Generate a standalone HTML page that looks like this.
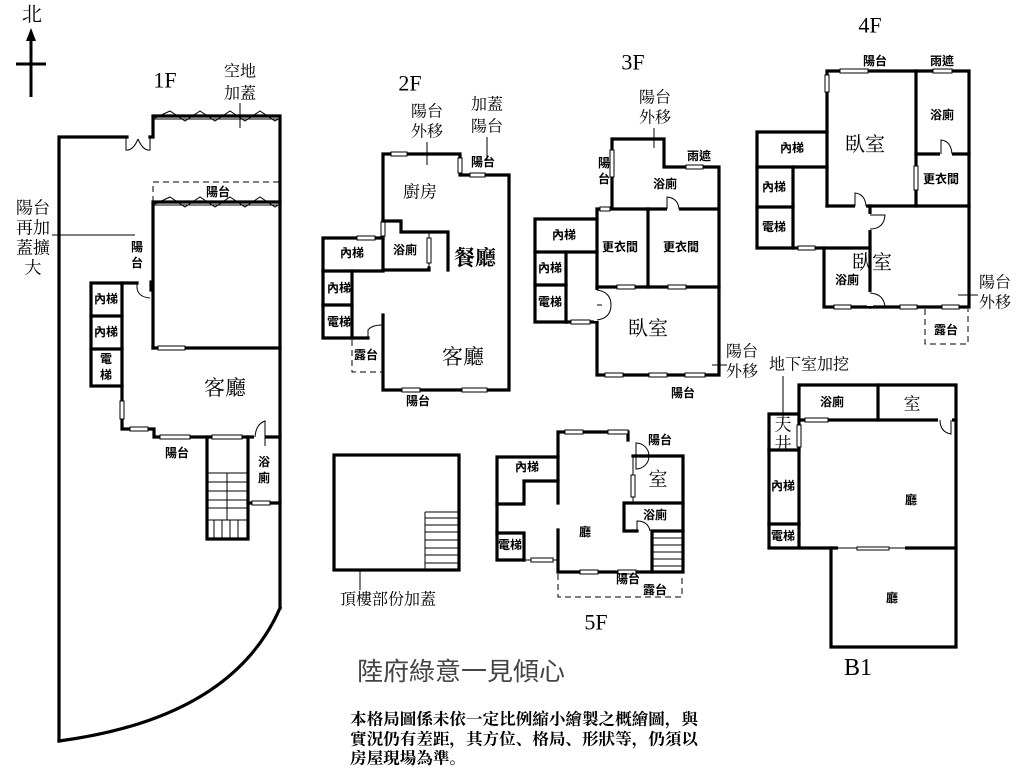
<!DOCTYPE html>
<html><head><meta charset="utf-8"><style>
html,body{margin:0;padding:0;background:#fff;}
svg{display:block;}
.w{stroke:#000;stroke-width:3.2;fill:none;stroke-linecap:square;}
.t{stroke:#000;stroke-width:1;fill:none;}
.d{stroke:#000;stroke-width:1;fill:none;stroke-dasharray:6 4;}
.wn{fill:#fff;stroke:#000;stroke-width:1;}
.sr{font-family:"Liberation Serif","Noto Serif CJK SC",serif;fill:#000;text-anchor:middle;dominant-baseline:central;}
.sb{font-family:"Liberation Sans","Noto Sans CJK TC",sans-serif;font-weight:bold;fill:#000;text-anchor:middle;dominant-baseline:central;font-size:12px;}
</style></head><body>
<svg width="1024" height="768" viewBox="0 0 1024 768" xmlns="http://www.w3.org/2000/svg">
<rect width="1024" height="768" fill="#fff"/>

<!-- North arrow -->
<text class="sr" x="32" y="15" font-size="20">北</text>
<line x1="31" y1="38" x2="31" y2="97" stroke="#000" stroke-width="3"/>
<polygon points="31,28 26,41 36,41" fill="#000"/>
<line x1="16" y1="64" x2="46" y2="64" stroke="#000" stroke-width="3"/>

<!-- ================= 1F ================= -->
<text class="sr" x="165" y="80" font-size="22">1F</text>
<text class="sr" x="240" y="72" font-size="16">空地</text>
<text class="sr" x="240" y="94" font-size="16">加蓋</text>
<line class="t" x1="240" y1="103" x2="240" y2="128"/>
<path class="w" d="M127,137 L59,137 L59,741"/>
<path class="w" d="M150,137 L153,137 L153,116 L280,116 L280,608"/>
<path class="w" d="M280,608 Q232,718 59,741"/>
<path class="t" d="M126,137 L126,150 Q133,151 138,139 M150,137 L150,150 Q143,151 138,139"/>
<line class="t" x1="153" y1="119" x2="280" y2="119"/>
<polyline class="t" points="155,118 170,111 185,121 200,111 215,121 230,111 245,121 260,111 275,121 280,118"/>
<path class="d" d="M153,202 L153,182 L280,182"/>
<text class="sb" x="218" y="192">陽台</text>
<path class="w" d="M153,348 L153,202 L280,202"/>
<line class="t" x1="153" y1="205" x2="280" y2="205"/>
<polyline class="t" points="155,204 170,197 185,207 200,197 215,207 230,197 245,207 260,197 275,207 280,204"/>
<path class="w" d="M153,348 L280,348"/>
<rect class="wn" x="158" y="346" width="27" height="4"/>
<line class="t" x1="52" y1="235" x2="135" y2="235"/>
<text class="sr" x="33" y="208" font-size="17">陽台</text>
<text class="sr" x="33" y="228" font-size="17">再加</text>
<text class="sr" x="33" y="248" font-size="17">蓋擴</text>
<text class="sr" x="33" y="268" font-size="17">大</text>
<text class="sb" x="137" y="247">陽</text>
<text class="sb" x="137" y="263">台</text>
<rect class="w" x="91" y="283" width="31" height="103"/>
<line class="w" x1="91" y1="316" x2="122" y2="316"/>
<line class="w" x1="91" y1="349" x2="122" y2="349"/>
<path class="w" d="M122,283 L137,283"/>
<path class="t" d="M137,283 L137,288 Q138,297 150,298"/>
<line class="w" x1="151" y1="282" x2="151" y2="290"/>
<text class="sb" x="106" y="299">內梯</text>
<text class="sb" x="106" y="332">內梯</text>
<text class="sb" x="106" y="359">電</text>
<text class="sb" x="106" y="375">梯</text>
<path class="w" d="M122,386 L122,429 L154,429 L154,437 L280,437"/>
<rect class="wn" x="120" y="401" width="4" height="18"/>
<rect class="wn" x="130" y="427" width="18" height="4"/>
<rect class="wn" x="160" y="435" width="30" height="4"/>
<rect class="wn" x="212" y="435" width="30" height="4"/>
<rect x="254" y="434" width="11" height="6" fill="#fff"/>
<path class="t" d="M255,437 Q256,424 265,421 L265,446"/>
<text class="sr" x="225" y="388" font-size="21">客廳</text>
<path class="w" d="M207,437 L207,539 L248,539 L248,437"/>
<path class="w" d="M248,503 L280,503"/>
<rect class="wn" x="252" y="501" width="18" height="4"/>
<g class="t">
<line x1="207" y1="473" x2="248" y2="473"/><line x1="207" y1="482" x2="248" y2="482"/>
<line x1="207" y1="491" x2="248" y2="491"/><line x1="207" y1="500" x2="248" y2="500"/>
<line x1="207" y1="508" x2="248" y2="508"/><line x1="207" y1="520" x2="248" y2="520"/>
<line x1="227" y1="473" x2="227" y2="520"/>
<line x1="214" y1="520" x2="214" y2="539"/><line x1="222" y1="520" x2="222" y2="539"/>
<line x1="230" y1="520" x2="230" y2="539"/><line x1="238" y1="520" x2="238" y2="539"/>
</g>
<text class="sb" x="177" y="453">陽台</text>
<text class="sb" x="264" y="462">浴</text>
<text class="sb" x="264" y="478">廁</text>

<!-- ================= 2F ================= -->
<text class="sr" x="410" y="83" font-size="22">2F</text>
<text class="sr" x="427" y="112" font-size="16">陽台</text>
<text class="sr" x="427" y="132" font-size="16">外移</text>
<line class="t" x1="427" y1="142" x2="427" y2="165"/>
<text class="sr" x="487" y="105" font-size="16">加蓋</text>
<text class="sr" x="487" y="127" font-size="16">陽台</text>
<line class="t" x1="487" y1="137" x2="487" y2="160"/>
<text class="sb" x="483" y="162">陽台</text>
<path class="w" d="M383,270 L383,154 L460,154 L460,175 L509,175 L509,390 L383,390 L383,315"/>
<rect class="wn" x="391" y="152" width="16" height="4"/>
<rect class="wn" x="458" y="158" width="4" height="15"/>
<rect class="wn" x="470" y="173" width="15" height="4"/>
<rect class="wn" x="381" y="222" width="4" height="14"/>
<rect class="wn" x="402" y="388" width="18" height="4"/>
<rect class="wn" x="462" y="388" width="25" height="4"/>
<path class="w" d="M383,221 L401,221 L401,232 L448,232 L448,270"/>
<path class="w" d="M383,270 L429,270 L429,268"/>
<line class="t" x1="429" y1="232" x2="429" y2="270"/>
<rect class="wn" x="427" y="238" width="4" height="25"/>
<path class="w" d="M383,238 L323,238 L323,338 L368,338"/>
<rect class="wn" x="357" y="236" width="18" height="4"/>
<line class="w" x1="323" y1="271" x2="383" y2="271"/>
<line class="w" x1="352" y1="271" x2="352" y2="338"/>
<line class="w" x1="323" y1="305" x2="352" y2="305"/>
<path class="t" d="M368,338 L368,330 Q372,325 382,325"/>
<path class="d" d="M352,340 L352,372 L383,372"/>
<text class="sr" x="420" y="192" font-size="17">廚房</text>
<text class="sb" x="405" y="250">浴廁</text>
<text class="sr" x="475" y="258" font-size="21" font-weight="bold">餐廳</text>
<text class="sr" x="463" y="357" font-size="21">客廳</text>
<text class="sb" x="352" y="253">內梯</text>
<text class="sb" x="339" y="288">內梯</text>
<text class="sb" x="339" y="322">電梯</text>
<text class="sb" x="366" y="355">露台</text>
<text class="sb" x="418" y="401">陽台</text>

<!-- ================= 3F ================= -->
<text class="sr" x="633" y="62" font-size="22">3F</text>
<text class="sr" x="655" y="98" font-size="16">陽台</text>
<text class="sr" x="655" y="118" font-size="16">外移</text>
<line class="t" x1="654" y1="128" x2="654" y2="148"/>
<path class="w" d="M612,209 L612,139 L664,139 L664,167 L719,167 L719,375 L597,375 L597,209 L719,209"/>
<line class="w" x1="648" y1="209" x2="648" y2="287"/>
<line class="w" x1="597" y1="287" x2="719" y2="287"/>
<rect class="wn" x="610" y="150" width="4" height="27"/>
<rect class="wn" x="686" y="165" width="17" height="4"/>
<rect class="wn" x="600" y="207" width="10" height="4"/>
<rect class="wn" x="617" y="285" width="18" height="4"/>
<rect class="wn" x="668" y="285" width="18" height="4"/>
<rect class="wn" x="605" y="373" width="18" height="4"/>
<rect class="wn" x="649" y="373" width="18" height="4"/>
<rect class="wn" x="685" y="373" width="20" height="4"/>
<rect x="667" y="206" width="12" height="6" fill="#fff"/>
<path class="t" d="M667,209 L667,197 Q678,198 679,209"/>
<path class="w" d="M597,219 L535,219 L535,322 L566,322"/>
<line class="w" x1="535" y1="252" x2="597" y2="252"/>
<line class="w" x1="566" y1="252" x2="566" y2="322"/>
<line class="w" x1="535" y1="285" x2="566" y2="285"/>
<path class="w" d="M566,322 L597,322"/>
<rect class="wn" x="571" y="320" width="19" height="4"/>
<rect x="594" y="290" width="6" height="31" fill="#fff"/>
<path class="t" d="M597,290 Q611,292 611,305 Q611,318 597,320 M597,305 L602,305"/>
<line class="t" x1="712" y1="365" x2="727" y2="365"/>
<text class="sb" x="699" y="156">雨遮</text>
<text class="sb" x="604" y="163">陽</text>
<text class="sb" x="604" y="179">台</text>
<text class="sb" x="665" y="184">浴廁</text>
<text class="sb" x="620" y="247">更衣間</text>
<text class="sb" x="681" y="247">更衣間</text>
<text class="sb" x="564" y="235">內梯</text>
<text class="sb" x="550" y="268">內梯</text>
<text class="sb" x="550" y="302">電梯</text>
<text class="sr" x="648" y="329" font-size="20">臥室</text>
<text class="sr" x="742" y="352" font-size="16">陽台</text>
<text class="sr" x="742" y="372" font-size="16">外移</text>
<text class="sb" x="683" y="393">陽台</text>

<!-- ================= 4F ================= -->
<text class="sr" x="870" y="25" font-size="22">4F</text>
<path class="w" d="M827,206 L827,71 L969,71 L969,307 L824,307 L824,248"/>
<line class="w" x1="916" y1="71" x2="916" y2="206"/>
<line class="w" x1="916" y1="154" x2="969" y2="154"/>
<line class="w" x1="827" y1="206" x2="969" y2="206"/>
<line class="w" x1="870" y1="206" x2="870" y2="307"/>
<path class="w" d="M827,132 L757,132 L757,248 L870,248"/>
<line class="w" x1="757" y1="167" x2="827" y2="167"/>
<line class="w" x1="793" y1="167" x2="793" y2="248"/>
<line class="w" x1="757" y1="207" x2="793" y2="207"/>
<rect class="wn" x="840" y="69" width="28" height="4"/>
<rect class="wn" x="933" y="69" width="19" height="4"/>
<rect class="wn" x="825" y="75" width="4" height="17"/>
<rect class="wn" x="798" y="246" width="17" height="4"/>
<rect class="wn" x="834" y="305" width="17" height="4"/>
<rect class="wn" x="900" y="305" width="17" height="4"/>
<rect class="wn" x="942" y="305" width="17" height="4"/>
<rect x="940" y="151" width="12" height="6" fill="#fff"/>
<path class="t" d="M941,154 L941,140 Q951,141 952,154"/>
<rect x="855" y="203" width="11" height="6" fill="#fff"/>
<path class="t" d="M855,206 L855,193 Q865,194 866,206"/>
<rect x="867" y="214" width="6" height="16" fill="#fff"/>
<path class="t" d="M870,215 L885,215 Q884,229 870,229"/>
<rect x="867" y="292" width="6" height="14" fill="#fff"/>
<path class="t" d="M870,293 L870,293 Q884,294 885,307"/>
<line class="t" x1="916" y1="164" x2="916" y2="192"/>
<rect class="wn" x="914" y="166" width="4" height="24"/>
<path class="d" d="M925,309 L925,344 L968,344 L968,309"/>
<line class="t" x1="958" y1="295" x2="978" y2="295"/>
<text class="sb" x="875" y="61">陽台</text>
<text class="sb" x="942" y="61">雨遮</text>
<text class="sb" x="942" y="115">浴廁</text>
<text class="sr" x="865" y="145" font-size="20">臥室</text>
<text class="sb" x="941" y="179">更衣間</text>
<text class="sb" x="792" y="148">內梯</text>
<text class="sb" x="774" y="187">內梯</text>
<text class="sb" x="774" y="227">電梯</text>
<text class="sr" x="872" y="263" font-size="20">臥室</text>
<text class="sb" x="847" y="280">浴廁</text>
<text class="sb" x="946" y="330">露台</text>
<text class="sr" x="995" y="283" font-size="16">陽台</text>
<text class="sr" x="995" y="303" font-size="16">外移</text>

<!-- ================= B1 ================= -->
<text class="sr" x="809" y="365" font-size="16">地下室加挖</text>
<line class="t" x1="783" y1="376" x2="783" y2="420"/>
<path class="w" d="M799,414 L799,385 L956,385 L956,548 L769,548 L769,414 L799,414 L799,548"/>
<line class="w" x1="799" y1="420" x2="956" y2="420"/>
<line class="w" x1="878" y1="385" x2="878" y2="420"/>
<line class="w" x1="769" y1="450" x2="799" y2="450"/>
<line class="w" x1="769" y1="524" x2="799" y2="524"/>
<path class="w" d="M831,548 L831,647 L956,647 L956,548"/>
<rect x="838" y="545" width="67" height="6" fill="#fff"/>
<line class="t" x1="838" y1="548" x2="905" y2="548"/>
<rect class="wn" x="857" y="547" width="32" height="3"/>
<rect class="wn" x="805" y="418" width="23" height="4"/>
<rect class="wn" x="797" y="425" width="4" height="22"/>
<rect x="938" y="417" width="14" height="6" fill="#fff"/>
<path class="t" d="M940,420 Q940,432 951,434 L951,420"/>
<text class="sb" x="832" y="402">浴廁</text>
<text class="sr" x="912" y="404" font-size="17">室</text>
<text class="sr" x="783" y="425" font-size="17">天</text>
<text class="sr" x="783" y="444" font-size="17">井</text>
<text class="sb" x="783" y="486">內梯</text>
<text class="sb" x="783" y="536">電梯</text>
<text class="sb" x="911" y="500" font-size="15">廳</text>
<text class="sb" x="892" y="598" font-size="15">廳</text>
<text class="sr" x="858" y="668" font-size="24">B1</text>

<!-- ================= Roof ================= -->
<rect class="w" x="334" y="455" width="125" height="115"/>
<g class="t">
<line x1="425" y1="512" x2="425" y2="570"/>
<line x1="425" y1="512" x2="459" y2="512"/><line x1="425" y1="518" x2="459" y2="518"/>
<line x1="425" y1="525" x2="459" y2="525"/><line x1="425" y1="532" x2="459" y2="532"/>
<line x1="425" y1="540" x2="459" y2="540"/><line x1="425" y1="548" x2="459" y2="548"/>
<line x1="425" y1="555" x2="459" y2="555"/><line x1="425" y1="563" x2="459" y2="563"/>
<line x1="360" y1="570" x2="360" y2="590"/>
</g>
<text class="sr" x="388" y="600" font-size="16">頂樓部份加蓋</text>

<!-- ================= 5F ================= -->
<path class="w" d="M558,503 L558,432 L628,432 L628,440"/>
<path class="w" d="M558,530 L558,572 L683,572 L683,456 L633,456"/>
<rect class="wn" x="565" y="430" width="18" height="4"/>
<rect class="wn" x="608" y="430" width="20" height="4"/>
<path class="t" d="M636,443 A13,13 0 0 1 636,469 Z"/>
<line class="t" x1="633" y1="455" x2="633" y2="503"/>
<rect class="wn" x="631" y="475" width="4" height="22"/>
<path class="w" d="M683,503 L624,503 L624,531 L637,531"/>
<path class="w" d="M652,572 L652,531 L683,531"/>
<path class="t" d="M637,531 L637,521 Q648,521 650,531"/>
<g class="t">
<line x1="652" y1="538" x2="683" y2="538"/><line x1="652" y1="545" x2="683" y2="545"/>
<line x1="652" y1="552" x2="683" y2="552"/><line x1="652" y1="559" x2="683" y2="559"/>
<line x1="652" y1="566" x2="683" y2="566"/>
</g>
<rect class="wn" x="580" y="570" width="18" height="4"/>
<rect class="wn" x="618" y="570" width="18" height="4"/>
<path class="w" d="M558,457 L497,457 L497,560 L524,560"/>
<path class="w" d="M558,481 L524,481 L524,504 L497,504"/>
<path class="w" d="M497,533 L524,533 L524,560"/>
<line class="t" x1="524" y1="560" x2="558" y2="560"/>
<rect class="wn" x="531" y="558" width="22" height="4"/>
<path class="d" d="M558,574 L558,597 L682,597 L682,574"/>
<text class="sb" x="660" y="440">陽台</text>
<text class="sr" x="658" y="480" font-size="19">室</text>
<text class="sb" x="655" y="515">浴廁</text>
<text class="sb" x="527" y="467">內梯</text>
<text class="sb" x="510" y="545">電梯</text>
<text class="sb" x="585" y="532" font-size="15">廳</text>
<text class="sb" x="628" y="579">陽台</text>
<text class="sb" x="655" y="590">露台</text>
<text class="sr" x="596" y="622" font-size="22">5F</text>

<!-- ================= Bottom texts ================= -->
<text x="357" y="672" font-family="'Liberation Sans','Noto Sans CJK TC',sans-serif" font-size="25" fill="#444" dominant-baseline="central" textLength="208" lengthAdjust="spacingAndGlyphs">陸府綠意一見傾心</text>
<text x="350" y="720" font-family="'Liberation Serif','Noto Serif CJK SC',serif" font-weight="bold" font-size="16" fill="#000" dominant-baseline="central" textLength="348" lengthAdjust="spacingAndGlyphs">本格局圖係未依一定比例縮小繪製之概繪圖，與</text>
<text x="350" y="740" font-family="'Liberation Serif','Noto Serif CJK SC',serif" font-weight="bold" font-size="16" fill="#000" dominant-baseline="central" textLength="348" lengthAdjust="spacingAndGlyphs">實況仍有差距，其方位、格局、形狀等，仍須以</text>
<text x="350" y="759" font-family="'Liberation Serif','Noto Serif CJK SC',serif" font-weight="bold" font-size="16" fill="#000" dominant-baseline="central" textLength="116" lengthAdjust="spacingAndGlyphs">房屋現場為準。</text>
</svg>
</body></html>
